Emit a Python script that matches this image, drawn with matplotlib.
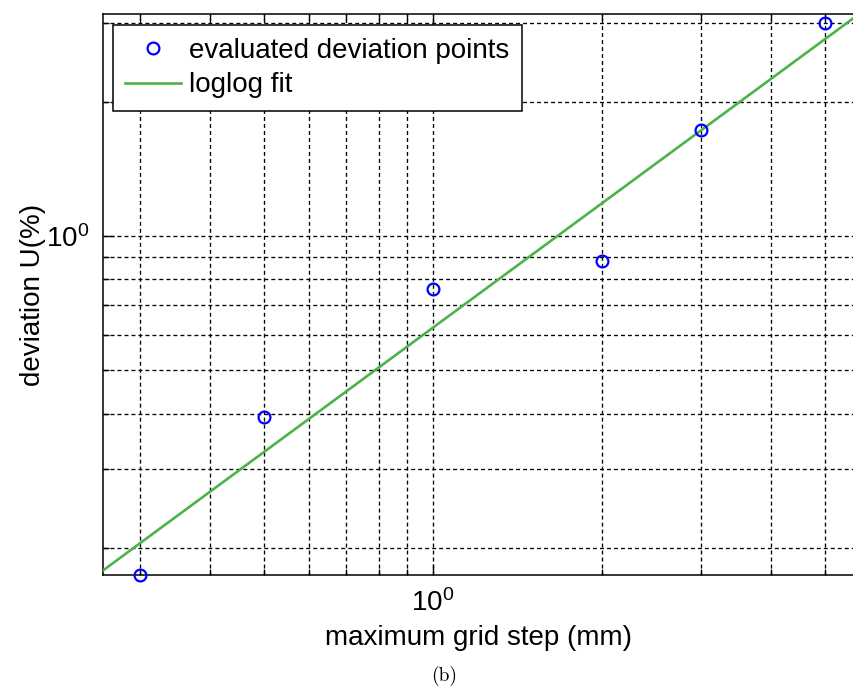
import numpy as np
import matplotlib
matplotlib.use("Agg")
import matplotlib.pyplot as plt
from matplotlib.ticker import NullFormatter, LogLocator

plt.rcParams['font.family'] = ['Liberation Sans', 'DejaVu Sans']
plt.rcParams['mathtext.fontset'] = 'custom'
plt.rcParams['mathtext.rm'] = 'Liberation Sans'
plt.rcParams['mathtext.it'] = 'Liberation Sans:italic'
plt.rcParams['mathtext.bf'] = 'Liberation Sans:bold'

# data
grid_step = [0.3, 0.5, 1.0, 2.0, 3.0, 5.0]
deviation = [0.174, 0.393, 0.760, 0.879, 1.73, 3.0]
legend_labels = ['evaluated deviation points', 'loglog fit']
x_label = 'maximum grid step (mm)'
y_label = 'deviation U(%)'
caption = '(b)'

W, H = 854, 689
fig = plt.figure(figsize=(W / 100, H / 100), dpi=100)
ax = fig.add_axes([103 / W, 1 - 575 / H, (W - 103) / W, (575 - 14) / H])

ax.set_xscale('log')
ax.set_yscale('log')
xlim = (0.258, 5.63)
ylim = (0.174, 3.147)
ax.set_xlim(*xlim)
ax.set_ylim(*ylim)

# loglog fit
p = np.polyfit(np.log10(grid_step), np.log10(deviation), 1)
xf = np.logspace(np.log10(xlim[0]), np.log10(xlim[1]), 200)
yf = 10 ** np.polyval(p, np.log10(xf))

green = '#4cb348'
ax.plot(grid_step, deviation, linestyle='none', marker='o', markersize=8.5,
        markerfacecolor='none', markeredgecolor='#0000ff', markeredgewidth=1.6,
        clip_on=False, zorder=4, label=legend_labels[0])
ax.plot(xf, yf, color=green, linewidth=1.9, zorder=3, label=legend_labels[1])

# ticks
ax.xaxis.set_major_locator(LogLocator(base=10, numticks=10))
ax.xaxis.set_minor_locator(LogLocator(base=10, subs=np.arange(2, 10), numticks=10))
ax.yaxis.set_major_locator(LogLocator(base=10, numticks=10))
ax.yaxis.set_minor_locator(LogLocator(base=10, subs=np.arange(2, 10), numticks=10))
ax.xaxis.set_minor_formatter(NullFormatter())
ax.yaxis.set_minor_formatter(NullFormatter())

ax.tick_params(which='both', direction='in', top=True, right=False, labelsize=20,
               width=1.0, color='black')
ax.tick_params(which='major', length=8, pad=10)
ax.tick_params(which='minor', length=4.3)

ax.grid(True, which='both', color='black', linestyle=(0, (3, 2.3)), linewidth=0.95)
ax.set_axisbelow(True)

for s in ['left', 'bottom', 'top']:
    ax.spines[s].set_linewidth(1.1)
ax.spines['right'].set_visible(False)

ax.set_xlabel(x_label, fontsize=20, labelpad=6)
ax.set_ylabel(y_label, fontsize=20, labelpad=0)

leg = ax.legend(loc='upper left', bbox_to_anchor=(10 / (W - 103), 1 - 11 / 561),
                fontsize=20, frameon=True, fancybox=False, framealpha=1,
                edgecolor='black', handlelength=2.0, handletextpad=0.3,
                borderpad=0.45, labelspacing=0.32, borderaxespad=0)
leg.get_frame().set_linewidth(1.1)

fig.text(444 / W, 1 - 676 / H, caption, family='cmr10', fontsize=14,
         ha='center', va='center')

fig.savefig('out.png', dpi=100)
